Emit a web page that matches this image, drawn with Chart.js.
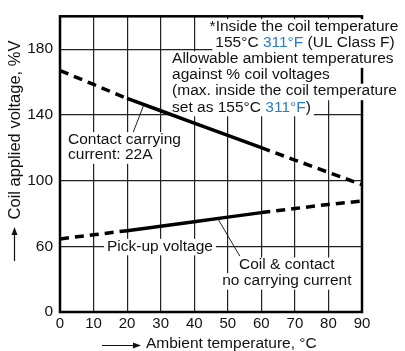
<!DOCTYPE html>
<html>
<head>
<meta charset="utf-8">
<script src="https://cdn.jsdelivr.net/npm/chart.js"></script>
<style>
html, body { margin: 0; padding: 0; background: #fff; }
</style>
</head>
<body>
<canvas id="chart" width="405" height="351"></canvas>
<script>
// data
var temps = [0, 10, 20, 30, 40, 50, 60, 70, 80, 90];
var contactCarrying = [167, 158.5, 150, 142.5, 135, 127.5, 120, 112.5, 105, 97.5];
var noCarrying = [64.5, 67, 69.5, 72.25, 75, 77.75, 80.5, 83, 85.5, 87.5];
var solidFrom = 20, solidTo = 60;
// y axis is broken: the "0" label sits where 20 would be
var yTickValues = [20, 60, 100, 140, 180];
var yTickLabels = ["0", "60", "100", "140", "180"];
var xTickValues = [0, 10, 20, 30, 40, 50, 60, 70, 80, 90];

var FONT = '"Liberation Sans", Arial, Helvetica, sans-serif';
var BLUE = "#2a7cc6";

// notes: text parts, anchor in data units, alignment
var notes = [
	{parts: [["*Inside the coil temperature", "#111"]], x: 72.7, y: 193.7, align: "center"},
	{parts: [["155°C ", "#111"], ["311°F", BLUE], [" (UL Class F)", "#111"]], x: 73, y: 183.9, align: "center"},
	{parts: [["Allowable ambient temperatures", "#111"]], x: 33.4, y: 174.1, align: "left"},
	{parts: [["against % coil voltages", "#111"]], x: 33.4, y: 164.2, align: "left"},
	{parts: [["(max. inside the coil temperature", "#111"]], x: 33.4, y: 154.4, align: "left"},
	{parts: [["set as 155°C ", "#111"], ["311°F", BLUE], [")", "#111"]], x: 33.4, y: 144.6, align: "left"},
	{parts: [["Contact carrying", "#111"]], x: 2.4, y: 124.9, align: "left"},
	{parts: [["current: 22A", "#111"]], x: 2.4, y: 115.7, align: "left"},
	{parts: [["Pick-up voltage", "#111"]], x: 14, y: 60, align: "left"},
	{parts: [["Coil & contact", "#111"]], x: 67.6, y: 48.6, align: "center"},
	{parts: [["no carrying current", "#111"]], x: 67.6, y: 39.1, align: "center"}
];
// leader lines [x1,y1,x2,y2] in data units
var leaders = [
	[25, 146.25, 21.3, 126.7],
	[47, 76.9, 53.6, 54]
];

function points(ys) {
	var out = [];
	for (var i = 0; i < temps.length; i++) out.push({x: temps[i], y: ys[i]});
	return out;
}

function dashFor(ctx) {
	if (ctx.p0.parsed.x >= solidFrom && ctx.p1.parsed.x <= solidTo) return [];
	return [9, 6];
}

function drawNote(ctx, n, xs, ys) {
	var w = 0;
	n.parts.forEach(function(p) { w += ctx.measureText(p[0]).width; });
	var px = xs.getPixelForValue(n.x), py = ys.getPixelForValue(n.y);
	var left = n.align == "center" ? px - w / 2 : px;
	ctx.fillStyle = "#fff";
	ctx.fillRect(left - 3, py - 7.5, w + 6, 16.5);
	var cx = left;
	n.parts.forEach(function(p) {
		ctx.fillStyle = p[1];
		ctx.fillText(p[0], cx, py);
		cx += ctx.measureText(p[0]).width;
	});
}

var decor = {
	id: "decor",
	beforeDatasetsDraw: function(chart) {
		var ctx = chart.ctx, a = chart.chartArea;
		var xs = chart.scales.x, ys = chart.scales.y;
		ctx.save();
		// frame
		ctx.strokeStyle = "#000";
		ctx.lineWidth = 2.5;
		ctx.strokeRect(a.left, a.top, a.right - a.left, a.bottom - a.top);
		// leaders
		ctx.lineWidth = 1;
		ctx.strokeStyle = "#222";
		leaders.forEach(function(l) {
			ctx.beginPath();
			ctx.moveTo(xs.getPixelForValue(l[0]), ys.getPixelForValue(l[1]));
			ctx.lineTo(xs.getPixelForValue(l[2]), ys.getPixelForValue(l[3]));
			ctx.stroke();
		});
		// notes
		ctx.font = "15.5px " + FONT;
		ctx.textBaseline = "middle";
		ctx.textAlign = "left";
		notes.forEach(function(n) { drawNote(ctx, n, xs, ys); });

		// axis titles with arrows
		ctx.fillStyle = "#111";
		ctx.strokeStyle = "#111";
		ctx.lineWidth = 1.2;
		// y
		ctx.save();
		ctx.translate(15, 130);
		ctx.rotate(-Math.PI / 2);
		ctx.font = "16.5px " + FONT;
		ctx.textAlign = "center";
		ctx.fillText("Coil applied voltage, %V", 0, 0);
		ctx.restore();
		ctx.beginPath();
		ctx.moveTo(14.5, 261);
		ctx.lineTo(14.5, 233);
		ctx.stroke();
		ctx.beginPath();
		ctx.moveTo(14.5, 227);
		ctx.lineTo(11.5, 235);
		ctx.lineTo(17.5, 235);
		ctx.closePath();
		ctx.fill();
		// x
		ctx.font = "15.5px " + FONT;
		ctx.textAlign = "left";
		ctx.fillText("Ambient temperature, °C", 146, 344);
		ctx.beginPath();
		ctx.moveTo(102, 345.5);
		ctx.lineTo(135, 345.5);
		ctx.stroke();
		ctx.beginPath();
		ctx.moveTo(141, 345.5);
		ctx.lineTo(133, 342.5);
		ctx.lineTo(133, 348.5);
		ctx.closePath();
		ctx.fill();
		ctx.restore();
	}
};

var ctx = document.getElementById("chart").getContext("2d");
var chart = new Chart(ctx, {
	type: "line",
	data: {
		datasets: [
			{
				label: "Contact carrying current: 22A",
				data: points(contactCarrying),
				borderColor: "#000",
				borderWidth: 3.5,
				pointRadius: 0,
				tension: 0,
				segment: {borderDash: dashFor}
			},
			{
				label: "Coil & contact no carrying current",
				data: points(noCarrying),
				borderColor: "#000",
				borderWidth: 3.5,
				pointRadius: 0,
				tension: 0,
				segment: {borderDash: dashFor}
			}
		]
	},
	options: {
		responsive: false,
		animation: false,
		devicePixelRatio: 1,
		layout: {padding: {top: 10, right: 43, left: 0, bottom: 0}},
		plugins: {legend: {display: false}, tooltip: {enabled: false}},
		scales: {
			x: {
				type: "linear",
				min: 0,
				max: 90,
				afterFit: function(s) { s.height = 39; },
				afterBuildTicks: function(s) { s.ticks = xTickValues.map(function(v) { return {value: v}; }); },
				grid: {color: "#222", lineWidth: 1.2, drawTicks: false},
				border: {display: false},
				ticks: {color: "#111", font: {family: FONT, size: 15}, padding: 3, maxRotation: 0, autoSkip: false}
			},
			y: {
				type: "linear",
				min: 20,
				max: 200,
				afterFit: function(s) { s.width = 60; },
				afterBuildTicks: function(s) { s.ticks = yTickValues.map(function(v) { return {value: v}; }); },
				grid: {color: "#222", lineWidth: 1.2, drawTicks: false},
				border: {display: false},
				ticks: {
					color: "#111",
					font: {family: FONT, size: 15.5},
					padding: 7,
					autoSkip: false,
					callback: function(v) { return yTickLabels[yTickValues.indexOf(v)]; }
				}
			}
		}
	},
	plugins: [decor]
});
</script>
</body>
</html>
